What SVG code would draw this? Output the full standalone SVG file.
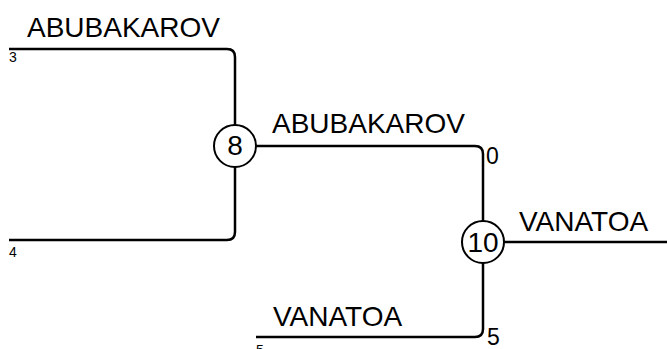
<svg xmlns="http://www.w3.org/2000/svg" width="667" height="349" viewBox="0 0 667 349">
<style>
.ln{fill:none;stroke:#000;stroke-width:2.5}
.nd{fill:#fff;stroke:#000;stroke-width:2}
text{font-family:"Liberation Sans",Arial,sans-serif;fill:#000}
.big{font-size:28px}
.sc{font-size:23px}
.sm{font-size:14px}
</style>
<rect width="667" height="349" fill="#fff"/>
<g id="connectors">
<path class="ln" d="M9 49 H227 Q235 49 235 57 V232 Q235 240 227 240 H9"/>
<path class="ln" d="M235 146 H475 Q483 146 483 154 V329 Q483 337 475 337 H256"/>
<path class="ln" d="M483 242 H667"/>
</g>
<g id="labels">
<text class="big" x="27" y="37">ABUBAKAROV</text>
<text class="sm" x="9" y="62">3</text>
<text class="sm" x="9" y="257">4</text>
<text class="big" x="272" y="133">ABUBAKAROV</text>
<text class="sc" x="486" y="164">0</text>
<text class="big" x="519" y="231">VANATOA</text>
<text class="big" x="273" y="326">VANATOA</text>
<text class="sc" x="487" y="345">5</text>
<text class="sm" x="256" y="355">5</text>
</g>
<g id="node8">
<circle class="nd" cx="235" cy="146" r="21"/>
<text class="big" x="235" y="155" text-anchor="middle">8</text>
</g>
<g id="node10">
<circle class="nd" cx="483" cy="242" r="21"/>
<text class="big" x="483" y="252" text-anchor="middle">10</text>
</g>
</svg>
